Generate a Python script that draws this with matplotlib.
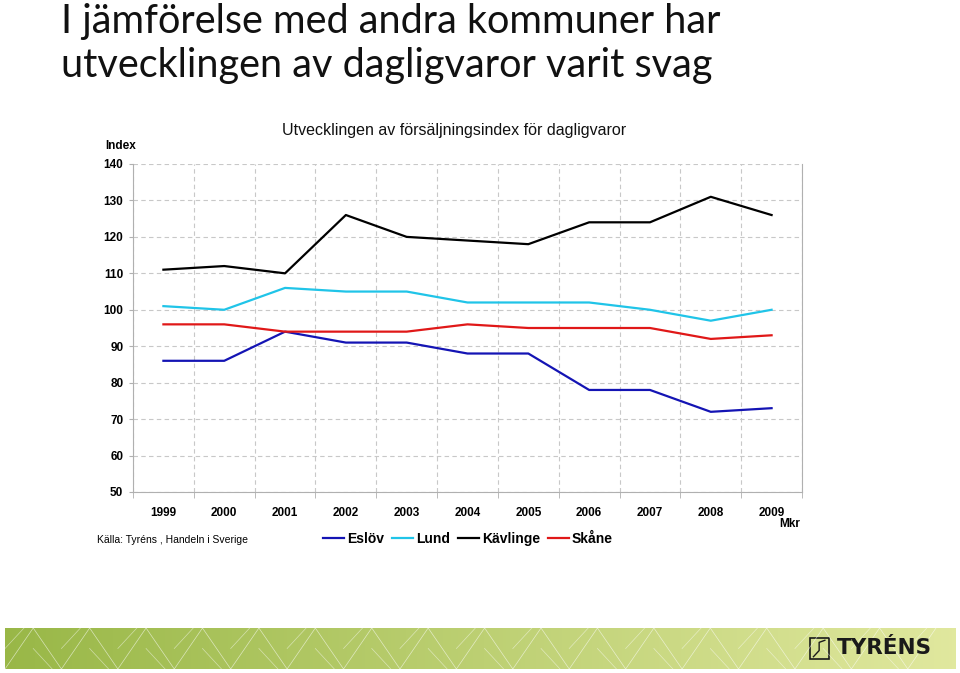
import numpy as np
import matplotlib.pyplot as plt
from matplotlib.lines import Line2D
from matplotlib.patches import Rectangle

years = ["1999", "2000", "2001", "2002", "2003", "2004", "2005", "2006", "2007", "2008", "2009"]
eslov = [86, 86, 94, 91, 91, 88, 88, 78, 78, 72, 73]
lund = [101, 100, 106, 105, 105, 102, 102, 102, 100, 97, 100]
kavlinge = [111, 112, 110, 126, 120, 119, 118, 124, 124, 131, 126]
skane = [96, 96, 94, 94, 94, 96, 95, 95, 95, 92, 93]
yticks = [50, 60, 70, 80, 90, 100, 110, 120, 130, 140]

series = [("Eslöv", eslov, "#1414b4"),
          ("Lund", lund, "#20c4e8"),
          ("Kävlinge", kavlinge, "#000000"),
          ("Skåne", skane, "#e01818")]

plt.rcParams['font.family'] = ['Liberation Sans', 'DejaVu Sans']

fig = plt.figure(figsize=(9.6, 6.73), dpi=100)
fig.patch.set_facecolor("white")

# titel
fig.text(61 / 960, 1 - 3 / 673, "I jämförelse med andra kommuner har\nutvecklingen av dagligvaror varit svag",
         fontsize=28.5, family=['Lato', 'DejaVu Sans'], color="#111111", va="top", ha="left",
         linespacing=1.22)

ax = fig.add_axes([133 / 960, 1 - 492 / 673, 669 / 960, 328 / 673])
x = np.arange(len(years))
for name, vals, col in series:
    ax.plot(x, vals, color=col, lw=1.6, label=name)

ax.set_xlim(-0.5, len(years) - 0.5)
ax.set_ylim(50, 140)
ax.set_yticks(yticks)
ax.set_yticklabels([str(v) for v in yticks], fontsize=8.5, fontweight="bold")
ax.set_xticks(x)
ax.set_xticklabels(years, fontsize=8.5, fontweight="bold")
ax.set_xticks(np.arange(-0.5, len(years) + 0.5, 1), minor=True)
ax.tick_params(axis="x", which="major", length=0, pad=11)
ax.tick_params(axis="x", which="minor", length=4, color="#b0b0b0")
ax.tick_params(axis="y", length=3, color="#b0b0b0", pad=4)
ax.grid(True, axis="y", which="major", ls=(0, (4, 3)), color="#c8c8c8", lw=0.8)
ax.grid(True, axis="x", which="minor", ls=(0, (4, 3)), color="#c8c8c8", lw=0.8)
for s in ["left", "bottom", "right"]:
    ax.spines[s].set_color("#b0b0b0")
ax.spines["top"].set_visible(False)

fig.text(454 / 960, 1 - 130 / 673, "Utvecklingen av försäljningsindex för dagligvaror",
         fontsize=11.5, ha="center", va="center", color="#111111")
fig.text(121 / 960, 1 - 146 / 673, "Index", fontsize=8.5, fontweight="bold", ha="center", va="center")
fig.text(800 / 960, 1 - 524 / 673, "Mkr", fontsize=8.5, fontweight="bold", ha="right", va="center")
fig.text(97 / 960, 1 - 540 / 673, "Källa: Tyréns , Handeln i Sverige", fontsize=7.5, ha="left", va="center")

handles = [Line2D([0], [0], color=c, lw=1.6) for _, _, c in series]
fig.legend(handles, [n for n, _, _ in series], loc="center", bbox_to_anchor=(468 / 960, 1 - 539 / 673),
           ncol=4, frameon=False, prop={"weight": "bold", "size": 10},
           handlelength=1.5, handletextpad=0.2, columnspacing=0.6)

# sidfot med grön banner
fax = fig.add_axes([5 / 960, 1 - 669 / 673, 950 / 960, 41 / 673])
grad = np.linspace(0, 1, 256).reshape(1, -1)
left = np.array([0.60, 0.72, 0.28])
right = np.array([0.88, 0.91, 0.62])
img = left[None, None, :] * (1 - grad[..., None]) + right[None, None, :] * grad[..., None]
fax.imshow(img, aspect="auto", extent=[0, 1, 0, 1])
xs = np.linspace(0, 0.98, 34)
for i in range(len(xs) - 1):
    y0, y1 = (0, 1) if i % 2 == 0 else (1, 0)
    fax.plot([xs[i], xs[i + 1]], [y0, y1], color="white", lw=0.5, alpha=0.6)
    fax.plot([xs[i], xs[i] + 0.02], [0.5, y1], color="white", lw=0.5, alpha=0.5)
fax.add_patch(Rectangle((0.847, 0.25), 0.02, 0.5, facecolor="none", edgecolor="#1a1a1a", lw=1.2))
fax.plot([0.851, 0.857, 0.857, 0.863], [0.3, 0.45, 0.65, 0.7], color="#1a1a1a", lw=1.0)
fax.text(0.876, 0.5, "TYRÉNS", fontsize=15.5, fontweight="bold", ha="left", va="center",
         color="#1a1a1a", family=['DejaVu Sans'], transform=fax.transAxes)
fax.set_xlim(0, 1)
fax.set_ylim(0, 1)
fax.axis("off")

fig.savefig("out.png", dpi=100)
